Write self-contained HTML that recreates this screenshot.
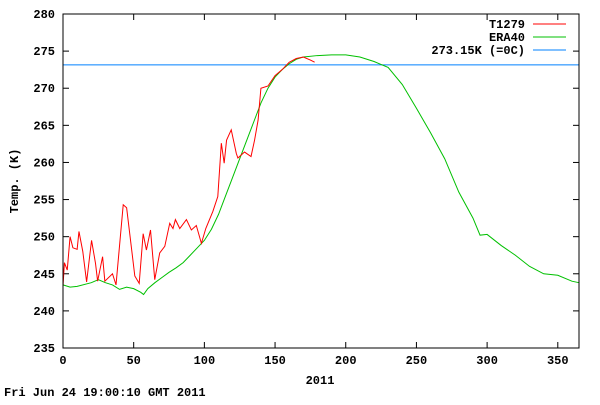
<!DOCTYPE html>
<html><head><meta charset="utf-8"><style>
body{margin:0;background:#fff}
svg text{font-family:"Liberation Mono",monospace;font-size:12px;font-weight:bold;fill:#000}
</style></head><body>
<svg id="c" width="600" height="400" xmlns="http://www.w3.org/2000/svg"></svg>
<script>
const xTicks=[0,50,100,150,200,250,300,350];
const yTicks=[235,240,245,250,255,260,265,270,275,280];
const eraDays=[0,5,10,20,25,30,35,40,45,50,55,57,60,65,70,75,80,85,90,95,100,105,110,115,120,125,130,135,140,145,150,155,160,165,170,180,190,200,210,220,230,240,250,260,270,280,290,295,300,310,320,330,340,350,360,365];
const eraVals=[243.5,243.2,243.3,243.8,244.2,243.8,243.5,242.9,243.2,243,242.5,242.2,243,243.8,244.5,245.2,245.8,246.5,247.5,248.5,249.5,251,253,255.5,258,260.5,263,265.5,268,270,271.5,272.5,273.3,273.9,274.2,274.4,274.5,274.5,274.2,273.6,272.8,270.5,267.3,264,260.5,256,252.5,250.2,250.3,248.8,247.5,246,245,244.8,244,243.8];
const tDays=[0,1,3,5,7,10,11.3,14,16.7,20.2,23,24.5,28,29.6,35,37.5,42.6,45,50.8,53.9,56.7,59,61.9,64.9,68.4,72,75.5,77.8,79.5,82.6,87.3,90.8,94.3,97.9,101,106,109.5,112,114,115.7,119,122.6,123.7,128.4,133,135.5,138,140,145,150,155,160,165,170,175,178];
const tVals=[243.3,246.5,245.5,250,248.5,248.3,250.7,248,243.9,249.5,246.4,244,247.3,244,245,243.5,254.3,253.9,244.7,243.7,250.4,248.2,250.9,244.2,247.8,248.7,251.8,251.1,252.3,251.1,252.3,250.9,251.5,249.1,251.1,253.4,255.4,262.6,259.9,263,264.4,261.2,260.6,261.4,260.8,263,265.7,270,270.3,271.7,272.5,273.5,274,274.2,273.8,273.5];
const freezing=273.15;
const L=63,R=579,T=14,B=348;
const sx=d=>L+d*(R-L)/365, sy=v=>B-(v-235)*(B-T)/45;
const svg=document.getElementById('c');const NS='http://www.w3.org/2000/svg';
function mk(t,a,txt){const e=document.createElementNS(NS,t);for(const k in a)e.setAttribute(k,a[k]);if(txt!=null)e.textContent=txt;svg.appendChild(e);return e;}
xTicks.forEach(d=>{const x=sx(d);
const t=mk('line',{x1:x,x2:x,y1:B,y2:B-6,stroke:'#000'});


mk('line',{x1:x,x2:x,y1:T,y2:T+6,stroke:'#000'});
const l=mk('text',{x:x,y:B+16,'text-anchor':'middle'},d);

});
yTicks.forEach(v=>{const y=sy(v);
const t=mk('line',{x1:L,x2:L+6,y1:y,y2:y,stroke:'#000'});


mk('line',{x1:R,x2:R-6,y1:y,y2:y,stroke:'#000'});
const l=mk('text',{x:L-8,y:y+4,'text-anchor':'end'},v);

});
const f=mk('line',{x1:L,x2:R,y1:sy(freezing),y2:sy(freezing),stroke:'#0080ff'});


const e=mk('polyline',{points:eraDays.map((d,i)=>sx(d)+','+sy(eraVals[i])).join(' '),fill:'none',stroke:'#00c000'});


const r=mk('polyline',{points:tDays.map((d,i)=>sx(d)+','+sy(tVals[i])).join(' '),fill:'none',stroke:'#ff0000'});


const fr=mk('rect',{x:L,y:T,width:R-L,height:B-T,fill:'none',stroke:'#000'});


[['T1279','#ff0000',24],['ERA40','#00c000',37],['273.15K (=0C)','#0080ff',50]].forEach(([n,c,y])=>{
const t=mk('text',{x:525,y:y+4,'text-anchor':'end'},n);


const l=mk('line',{x1:533,x2:566,y1:y,y2:y,stroke:c});

});
const xt=mk('text',{x:320,y:384,'text-anchor':'middle'},'2011');


const yt=mk('text',{x:18,y:181,'text-anchor':'middle',transform:'rotate(-90 18 181)'},'Temp. (K)');


const ts=mk('text',{x:4,y:396},'Fri Jun 24 19:00:10 GMT 2011');


</script>
</body></html>
